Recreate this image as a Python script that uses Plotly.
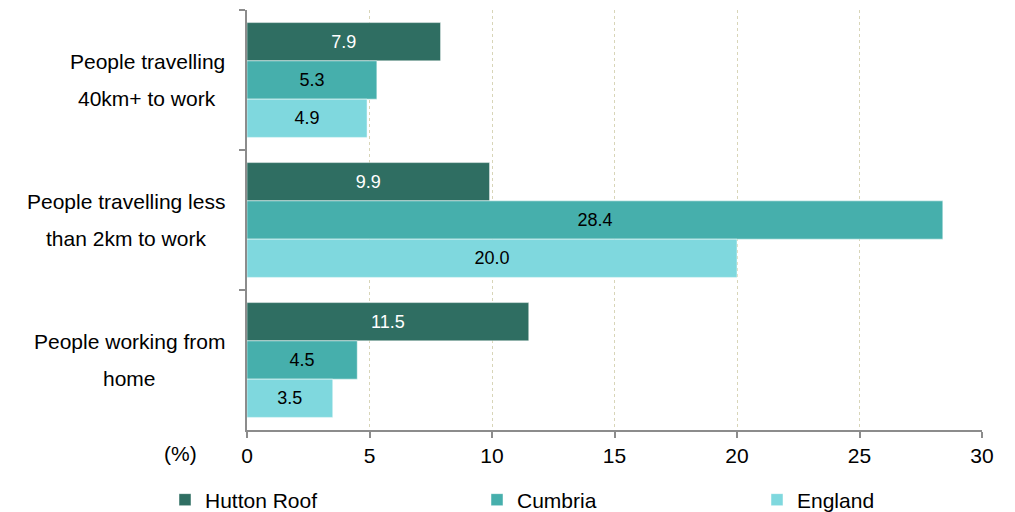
import plotly.graph_objects as go

categories = ["People travelling<br>40km+ to work",
              "People travelling less<br>than 2km to work",
              "People working from<br>home"]
series_names = ["Hutton Roof", "Cumbria", "England"]
hutton_roof = [7.9, 9.9, 11.5]
cumbria = [5.3, 28.4, 4.5]
england = [4.9, 20.0, 3.5]
x_ticks = [0, 5, 10, 15, 20, 25, 30]
axis_unit = "(%)"

colors = ["#2F6E62", "#46AFAC", "#7FD8DE"]
text_colors = ["white", "black", "black"]
FONT = "Liberation Sans, Arial, sans-serif"
FS = 21

# the page puts the figure 8px in from the top-left corner (body margin)
OFF = 8
W, H = 1015 - OFF, 512 - OFF
L, T = 247 - OFF, 10 - OFF
R, B = 33, 82
PW = W - L - R
PH = H - T - B


def px_x(page_x):
    return page_x - OFF


def px_y(page_y):
    return page_y - OFF


fig = go.Figure()
values = [hutton_roof, cumbria, england]
legend_ids = ["legend", "legend2", "legend3"]
for name, vals, col, tcol, lg in zip(series_names, values, colors, text_colors, legend_ids):
    fig.add_trace(go.Bar(
        y=categories, x=vals, name=name, orientation="h",
        marker=dict(color=col, line=dict(color="rgba(255,255,255,0.6)", width=0.8)),
        texttemplate="%{x:.1f}", textposition="inside", insidetextanchor="middle",
        textangle=0, constraintext="none",
        textfont=dict(family=FONT, size=18, color=tcol),
        legend=lg, hoverinfo="skip",
    ))

# Arial-compatible character widths (per em) for centring the category labels
CW = {" ": .278, "+": .584, "P": .667, "a": .556, "e": .556, "f": .278, "g": .556,
      "h": .556, "i": .222, "k": .5, "l": .222, "m": .833, "n": .556, "o": .556,
      "p": .556, "r": .333, "s": .5, "t": .278, "v": .5, "w": .722}


def text_width(s, size):
    return sum(CW.get(c, .556) for c in s) * size


label_right_px = px_x(225)
line_gap = 37
annotations = []
for cat in categories:
    lines = cat.split("<br>")
    block_w = max(text_width(s, FS) for s in lines)
    center_px = label_right_px - block_w / 2
    n = len(lines)
    for i, s in enumerate(lines):
        annotations.append(dict(
            x=0, xref="paper", y=cat, yref="y", xshift=center_px - L,
            yshift=((n - 1) / 2 - i) * line_gap,
            text=s, showarrow=False, xanchor="center", yanchor="middle",
            font=dict(family=FONT, size=FS, color="black")))

annotations.append(dict(
    x=0, xref="paper", y=0, yref="paper",
    xshift=px_x(180) - L, yshift=-(px_y(453) - (T + PH)),
    text=axis_unit, showarrow=False, xanchor="center", yanchor="middle",
    font=dict(family=FONT, size=FS, color="black")))

legend_common = dict(orientation="h", yanchor="middle", xanchor="left",
                     font=dict(family=FONT, size=FS, color="black"),
                     bgcolor="rgba(0,0,0,0)", itemclick=False, itemdoubleclick=False)
legend_y = -(px_y(500) - (T + PH)) / PH
legend_text_px = [205, 517, 797]
legend_layout = {}
for lg, tx in zip(legend_ids, legend_text_px):
    legend_layout[lg] = dict(legend_common, x=(px_x(tx) - 40 - L) / PW, y=legend_y)

fig.update_layout(
    width=W, height=H,
    margin=dict(l=L, r=R, t=T, b=B, autoexpand=False),
    paper_bgcolor="white", plot_bgcolor="white",
    barmode="group", bargap=0.18, bargroupgap=0,
    font=dict(family=FONT, size=FS, color="black"),
    annotations=annotations,
    showlegend=True,
    **legend_layout,
)
fig.update_xaxes(
    range=[0, 30], tickvals=x_ticks, ticktext=[str(v) for v in x_ticks],
    showgrid=True, gridcolor="#D8D5B8", gridwidth=1.2, griddash="dot",
    showline=True, linecolor="#8C8C8C", linewidth=2,
    ticks="outside", ticklen=6, tickcolor="#8C8C8C", tickwidth=1.5,
    tickfont=dict(family=FONT, size=FS, color="black"),
    zeroline=False, fixedrange=True,
)
fig.update_yaxes(
    autorange="reversed", showticklabels=False,
    showline=True, linecolor="#8C8C8C", linewidth=2,
    ticks="outside", tickson="boundaries", ticklen=6, tickcolor="#8C8C8C", tickwidth=1.5,
    showgrid=False, zeroline=False, fixedrange=True,
)

fig.write_html("out.html")
